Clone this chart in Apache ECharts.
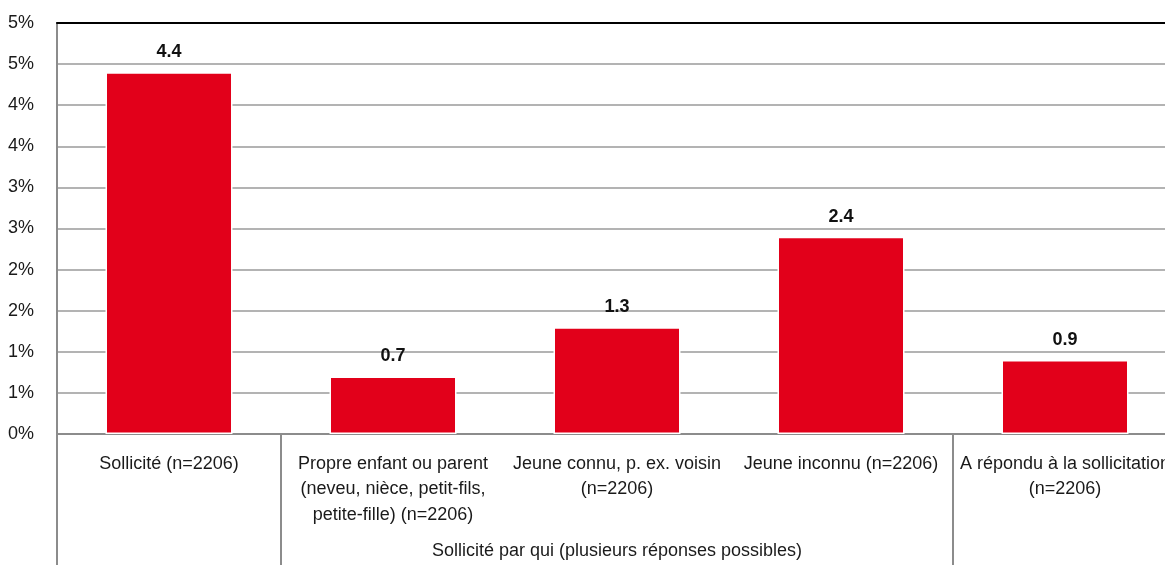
<!DOCTYPE html>
<html>
<head>
<meta charset="utf-8">
<script src="https://cdn.jsdelivr.net/npm/echarts@6/dist/echarts.min.js"></script>
<style>
  html, body { margin: 0; padding: 0; background: #fff; }
  #chart { width: 1165px; height: 565px; }
</style>
</head>
<body>
<div id="chart"></div>
<script>
// Category labels (first row), with their line breaks
const categories = [
  'Sollicité (n=2206)',
  'Propre enfant ou parent\n(neveu, nièce, petit-fils,\npetite-fille) (n=2206)',
  'Jeune connu, p. ex. voisin\n(n=2206)',
  'Jeune inconnu (n=2206)',
  'A répondu à la sollicitation\n(n=2206)'
];
// Share of respondents, in percent
const values = [4.4, 0.7, 1.3, 2.4, 0.9];
// Second row: label spanning categories 2 to 4
const groupLabel = 'Sollicité par qui (plusieurs réponses possibles)';
const groupCenter = [2.5];         // position on a 0..5 category-index scale
const groupSeparators = [0, 1, 4]; // boundaries drawn through both label rows

const FONT = '"Liberation Sans Narrow", "Arial Narrow", "Liberation Sans", Arial, sans-serif';
const GRID_GREY = '#9a9a9a';
const AXIS_GREY = '#8c8c8c';

const chart = echarts.init(document.getElementById('chart'), null, { renderer: 'canvas' });

chart.setOption({
  animation: false,
  backgroundColor: '#fff',
  textStyle: { fontFamily: FONT },
  grid: { left: 57, top: 23, bottom: 131, width: 1120, containLabel: false, outerBoundsMode: 'none' },
  xAxis: [
    {
      type: 'category',
      data: categories,
      position: 'bottom',
      axisLine: { show: true, lineStyle: { color: AXIS_GREY, width: 2 } },
      axisTick: { show: false },
      axisLabel: {
        interval: 0,
        margin: 17,
        fontSize: 18,
        lineHeight: 25.5,
        color: '#1a1a1a',
        fontFamily: FONT,
        align: 'center'
      }
    },
    {
      // group row and separators
      type: 'value',
      min: 0,
      max: 5,
      position: 'bottom',
      axisLine: { show: false },
      splitLine: { show: false },
      axisTick: {
        show: true,
        customValues: groupSeparators,
        length: 131,
        lineStyle: { color: AXIS_GREY, width: 2 }
      },
      axisLabel: {
        customValues: groupCenter,
        formatter: () => groupLabel,
        margin: 108,
        fontSize: 18,
        color: '#1a1a1a',
        fontFamily: FONT
      }
    },
    {
      // black rule along the top of the plot
      type: 'value',
      min: 0,
      max: 5,
      position: 'top',
      axisLine: { show: true, lineStyle: { color: '#000', width: 2 } },
      axisTick: { show: false },
      axisLabel: { show: false },
      splitLine: { show: false }
    }
  ],
  yAxis: {
    type: 'value',
    min: 0,
    max: 5,
    interval: 0.5,
    axisLine: { show: true, lineStyle: { color: AXIS_GREY, width: 2 } },
    axisTick: { show: false },
    splitLine: { show: true, lineStyle: { color: GRID_GREY, width: 1.5 } },
    axisLabel: {
      margin: 23,
      fontSize: 18,
      color: '#1a1a1a',
      fontFamily: FONT,
      formatter: v => Math.round(v) + '%'
    }
  },
  series: [
    {
      type: 'bar',
      xAxisIndex: 0,
      data: values,
      barWidth: 127,
      itemStyle: { color: '#e2001a', borderColor: '#fff', borderWidth: 1.5 },
      label: {
        show: true,
        position: 'top',
        distance: 11,
        fontSize: 18,
        fontWeight: 'bold',
        color: '#111',
        fontFamily: FONT,
        formatter: p => p.value.toFixed(1)
      }
    }
  ]
});
</script>
</body>
</html>
